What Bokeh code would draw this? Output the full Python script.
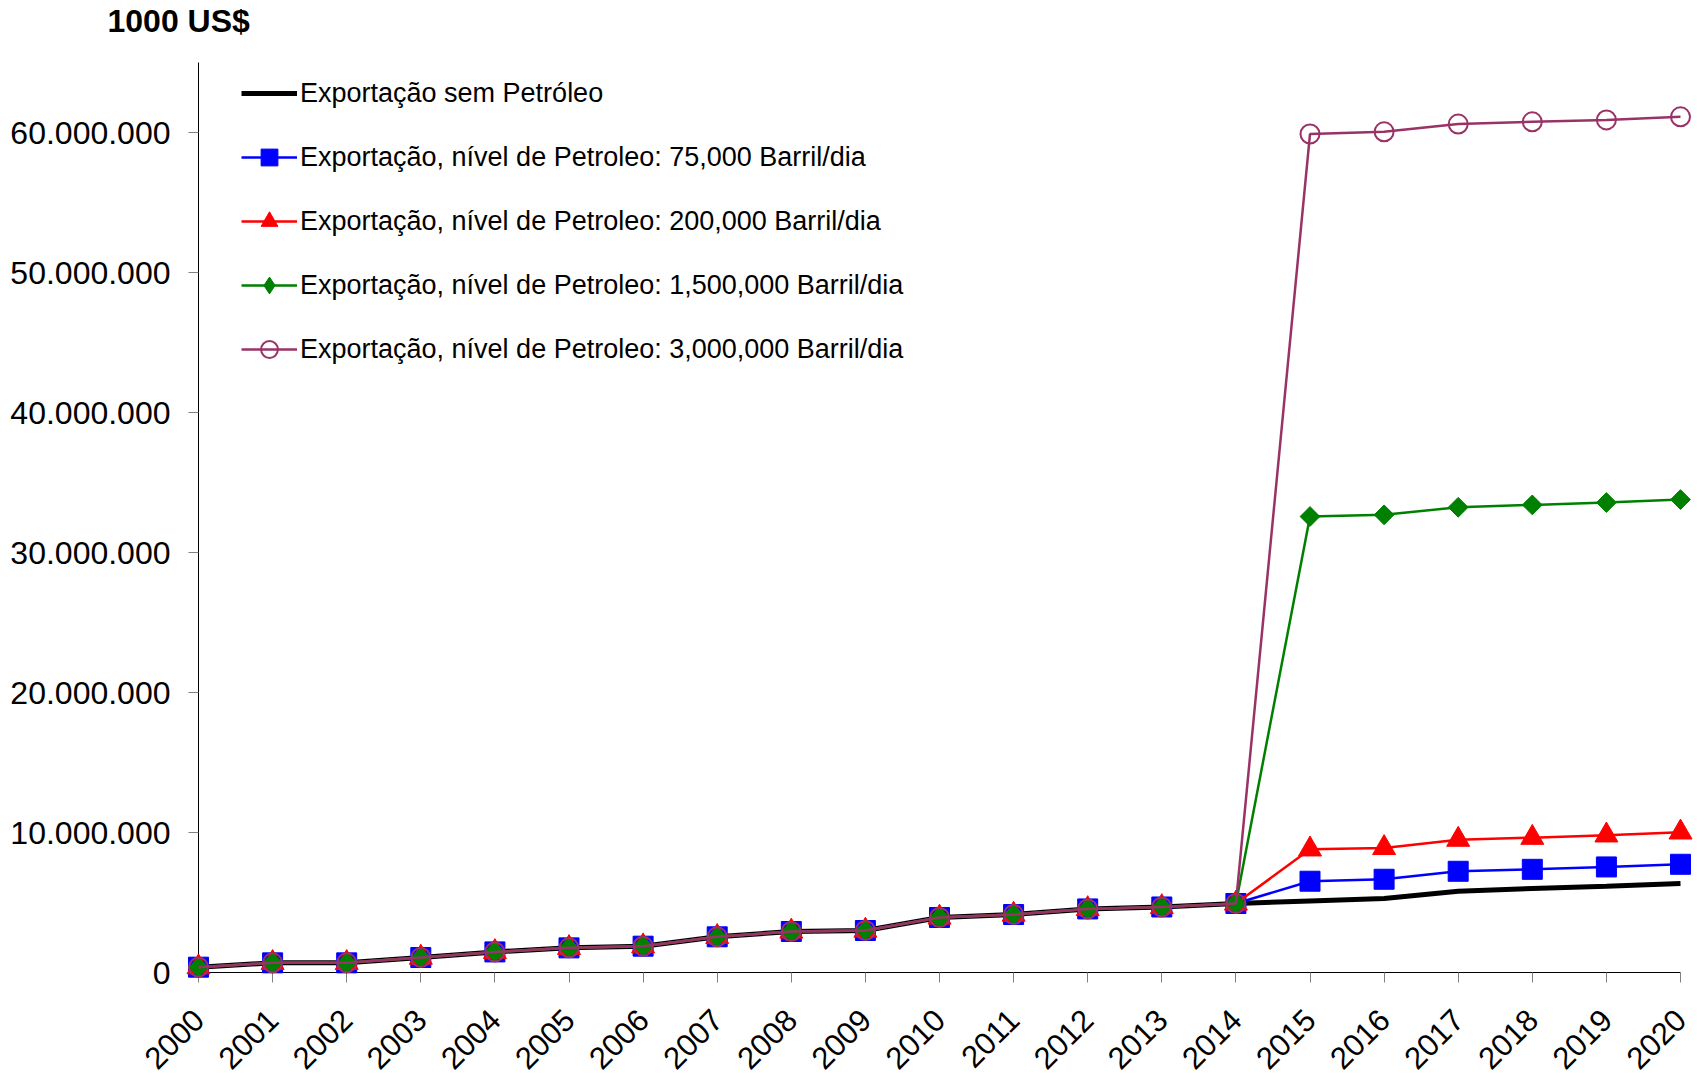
import numpy as np
from bokeh.plotting import figure
from bokeh.models import Range1d, FixedTicker, Legend, LegendItem
from bokeh.core.properties import value
from bokeh.embed import file_html
from bokeh.resources import INLINE

# ---- data (values in 1000 US$) ----
years = list(range(2000, 2021))

# 2000-2014: all scenarios share the same history
history = [380000, 690000, 690000, 1070000, 1470000, 1760000, 1880000,
           2550000, 2930000, 3000000, 3930000, 4140000, 4540000, 4680000,
           4930000]

# 2015-2020 projections per scenario
sem_petroleo_2015_2020 = [5110000, 5280000, 5800000, 6000000, 6160000, 6350000]
petroleo_75k_2015_2020 = [6520000, 6660000, 7230000, 7370000, 7540000, 7730000]
petroleo_200k_2015_2020 = [8800000, 8900000, 9490000, 9630000, 9800000, 10010000]
petroleo_1500k_2015_2020 = [32570000, 32690000, 33230000, 33400000, 33570000, 33780000]
petroleo_3000k_2015_2020 = [59890000, 60050000, 60600000, 60760000, 60900000, 61120000]

series_labels = [
    "Exportação sem Petróleo",
    "Exportação, nível de Petroleo: 75,000 Barril/dia",
    "Exportação, nível de Petroleo: 200,000 Barril/dia",
    "Exportação, nível de Petroleo: 1,500,000 Barril/dia",
    "Exportação, nível de Petroleo: 3,000,000 Barril/dia",
]

y_ticks = [0, 10000000, 20000000, 30000000, 40000000, 50000000, 60000000]
y_tick_labels = ["0", "10.000.000", "20.000.000", "30.000.000",
                 "40.000.000", "50.000.000", "60.000.000"]

unit_text = "1000 US$"

FONT = "Liberation Sans"

p = figure(
    frame_width=1482, frame_height=910,
    min_border_left=198, min_border_right=24,
    min_border_top=62, min_border_bottom=103,
    x_range=Range1d(2000, 2020), y_range=Range1d(0, 65000000),
    output_backend="svg", toolbar_location=None,
)
p.outline_line_color = None
p.xgrid.visible = False
p.ygrid.visible = False
p.background_fill_color = "white"
p.border_fill_color = "white"

lvl = "overlay"  # drawn above the frame clip so edge markers stay whole

# unit caption above the value axis, up in the top margin
p.text(x=[1998.772], y=[68000000], text=[unit_text],
       text_font=value(FONT), text_font_size="32px",
       text_font_style="bold", text_color="black",
       text_baseline="alphabetic", text_align="left", level=lvl)

# axes
for ax in (p.xaxis[0], p.yaxis[0]):
    ax.axis_line_color = "black"
    ax.axis_line_width = 1
    ax.major_tick_line_color = "#808080"
    ax.major_tick_out = 10
    ax.major_tick_in = 0
    ax.minor_tick_line_color = None
    ax.major_label_text_font = FONT
    ax.major_label_text_color = "black"

p.yaxis.ticker = FixedTicker(ticks=y_ticks)
p.yaxis.major_label_overrides = dict(zip(y_ticks, y_tick_labels))
p.yaxis.major_label_standoff = 18
p.yaxis.major_label_text_font_size = "32px"

p.xaxis.ticker = FixedTicker(ticks=years)
p.xaxis.major_label_orientation = np.pi / 4
p.xaxis.major_label_standoff = 32
p.xaxis.major_label_text_font_size = "31px"

# ---- series ----
y_sem = history + sem_petroleo_2015_2020
y_75k = history + petroleo_75k_2015_2020
y_200k = history + petroleo_200k_2015_2020
y_1500k = history + petroleo_1500k_2015_2020
y_3000k = history + petroleo_3000k_2015_2020

r_sem = p.line(years, y_sem, line_color="black", line_width=5, level=lvl)

r_75k_l = p.line(years, y_75k, line_color="#0000FF", line_width=2.5, level=lvl)
r_75k_m = p.scatter(years, y_75k, marker="square", size=20,
                    fill_color="#0000FF", line_color="#0000FF", level=lvl)

r_200k_l = p.line(years, y_200k, line_color="#FF0000", line_width=2.5, level=lvl)
r_200k_m = p.scatter(years, y_200k, marker="triangle", size=23,
                     fill_color="#FF0000", line_color="#FF0000", level=lvl)

r_1500k_l = p.line(years, y_1500k, line_color="#008000", line_width=2.5, level=lvl)
# diamond marker used as the legend key; sits inside the wider diamonds below
r_1500k_key = p.scatter(years, y_1500k, marker="diamond", size=13,
                        fill_color="#008000", line_color="#008000", level=lvl)
r_1500k_m = p.scatter(years, y_1500k, marker="square", angle=np.pi / 4, size=14,
                      fill_color="#008000", line_color="#008000", level=lvl)

r_3000k_l = p.line(years, y_3000k, line_color="#993366", line_width=2.5, level=lvl)
r_3000k_m = p.scatter(years, y_3000k, marker="circle", size=19,
                      fill_color=None, line_color="#993366", line_width=2,
                      level=lvl)

legend = Legend(
    items=[
        LegendItem(label=series_labels[0], renderers=[r_sem]),
        LegendItem(label=series_labels[1], renderers=[r_75k_l, r_75k_m]),
        LegendItem(label=series_labels[2], renderers=[r_200k_l, r_200k_m]),
        LegendItem(label=series_labels[3], renderers=[r_1500k_l, r_1500k_key]),
        LegendItem(label=series_labels[4], renderers=[r_3000k_l, r_3000k_m]),
    ],
    location=(43, 602),
    glyph_width=56, glyph_height=42, spacing=22,
    padding=0, margin=0, label_standoff=3,
    border_line_color=None, background_fill_alpha=0,
    label_text_font=FONT, label_text_font_size="27px",
    label_text_color="black",
)
p.add_layout(legend)

open("out.html", "w").write(file_html(p, INLINE))
